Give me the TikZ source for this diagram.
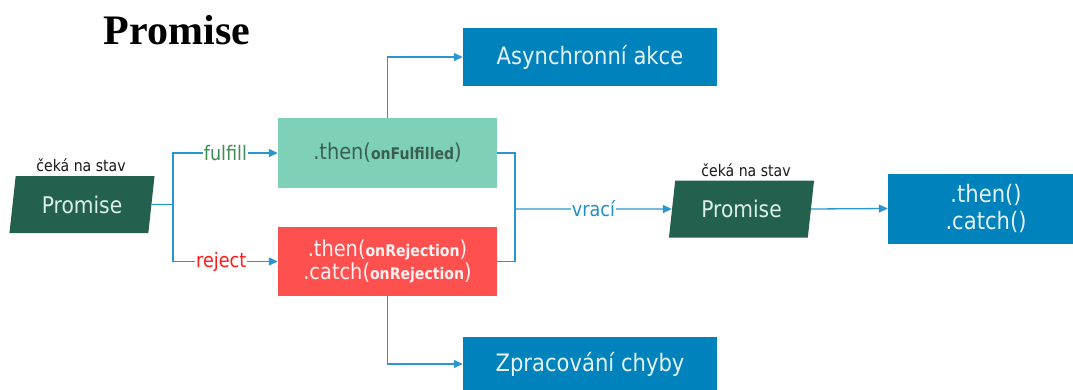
\documentclass[tikz,border=0pt]{standalone}
\usepackage{fontspec}
\setmainfont{DejaVu Sans}[FakeStretch=0.88]
\newfontfamily\titlefont{Liberation Serif}
\usetikzlibrary{shapes.geometric,arrows.meta}
\newcommand{\bsmall}[1]{{\bfseries\fontsize{16}{18}\selectfont #1}}
\definecolor{pgreen}{HTML}{23604D}
\definecolor{pgtext}{HTML}{DCEFE9}
\definecolor{mint}{HTML}{7ED1B8}
\definecolor{mintext}{HTML}{3A5F4F}
\definecolor{rbox}{HTML}{FF5050}
\definecolor{rtext}{HTML}{FBF1F1}
\definecolor{bbox}{HTML}{0083BD}
\definecolor{btext}{HTML}{E6F2F7}
\definecolor{lineblue}{HTML}{2B95CF}
\definecolor{fulgreen}{HTML}{3E8E57}
\definecolor{rejred}{HTML}{FF1A1A}
\definecolor{vracblue}{HTML}{2090C8}
\tikzset{
  pg/.style={trapezium, trapezium left angle=78, trapezium right angle=102,
    trapezium stretches=true, minimum width=146pt, minimum height=57pt,
    fill=pgreen, text=pgtext, inner sep=0pt, font=\fontsize{23}{26}\selectfont},
  waitlbl/.style={text=black!90, inner sep=0pt, font=\fontsize{16}{18}\selectfont},
  boxbase/.style={rectangle, inner sep=0pt, align=center},
  bluebox/.style={boxbase, fill=bbox, text=btext, font=\fontsize{24}{27}\selectfont},
  line/.style={draw=lineblue, line width=1.3pt},
  arr/.style={line, -{Triangle[length=9pt,width=8pt]}},
  lbl/.style={fill=white, inner sep=1pt, font=\fontsize{20}{22}\selectfont}
}
\begin{document}
\begin{tikzpicture}[x=1pt,y=-1pt]
\useasboundingbox (0,0) rectangle (1073,389);
% title
\node[font=\titlefont\bfseries\fontsize{42}{48}\selectfont, inner sep=0pt] (title) at (177,30) {Promise};
% left promise
\node[pg] (p1) at (82,204.5) {Promise};
\node[waitlbl] (w1) at (81,165) {čeká na stav};
% middle boxes
\node[boxbase, fill=mint, text=mintext, minimum width=219pt, minimum height=70pt,
  font=\fontsize{22}{25}\selectfont] (g) at (387.5,153)
  {.then(\bsmall{onFulfilled})};
\node[boxbase, fill=rbox, text=rtext, minimum width=219pt, minimum height=69pt,
  font=\fontsize{22}{23}\selectfont] (r) at (387.5,261.5)
  {.then(\bsmall{onRejection})\\.catch(\bsmall{onRejection})};
\node[bluebox, minimum width=254pt, minimum height=58pt] (a) at (590,57) {Asynchronní akce};
\node[bluebox, minimum width=254pt, minimum height=54pt] (z) at (590,364) {Zpracování chyby};
% right promise
\node[pg] (p2) at (741.5,209) {Promise};
\node[waitlbl] (w2) at (746,170) {čeká na stav};
\node[bluebox, minimum width=196pt, minimum height=70pt] (b) at (986,208.5) {.then()\\.catch()};
% connectors
\coordinate (j1) at (173,204.5);
\coordinate (j2) at (515,209);
\draw[line] (p1.east) -- (j1);
\draw[arr] (j1) |- (g.west) node[lbl, pos=0.75, text=fulgreen] {fulfill};
\draw[arr] (j1) |- (r.west) node[lbl, pos=0.73, text=rejred] {reject};
\draw[line] (g.east) -| (j2);
\draw[line] (r.east) -| (j2);
\draw[arr] (j2) -- (p2.west) node[lbl, pos=0.5, text=vracblue] {vrací};
\draw[arr] (g.north) |- (a.west);
\draw[arr] (r.south) |- (z.west);
\draw[arr] (p2.east) -- (b.west);
\end{tikzpicture}
\end{document}
